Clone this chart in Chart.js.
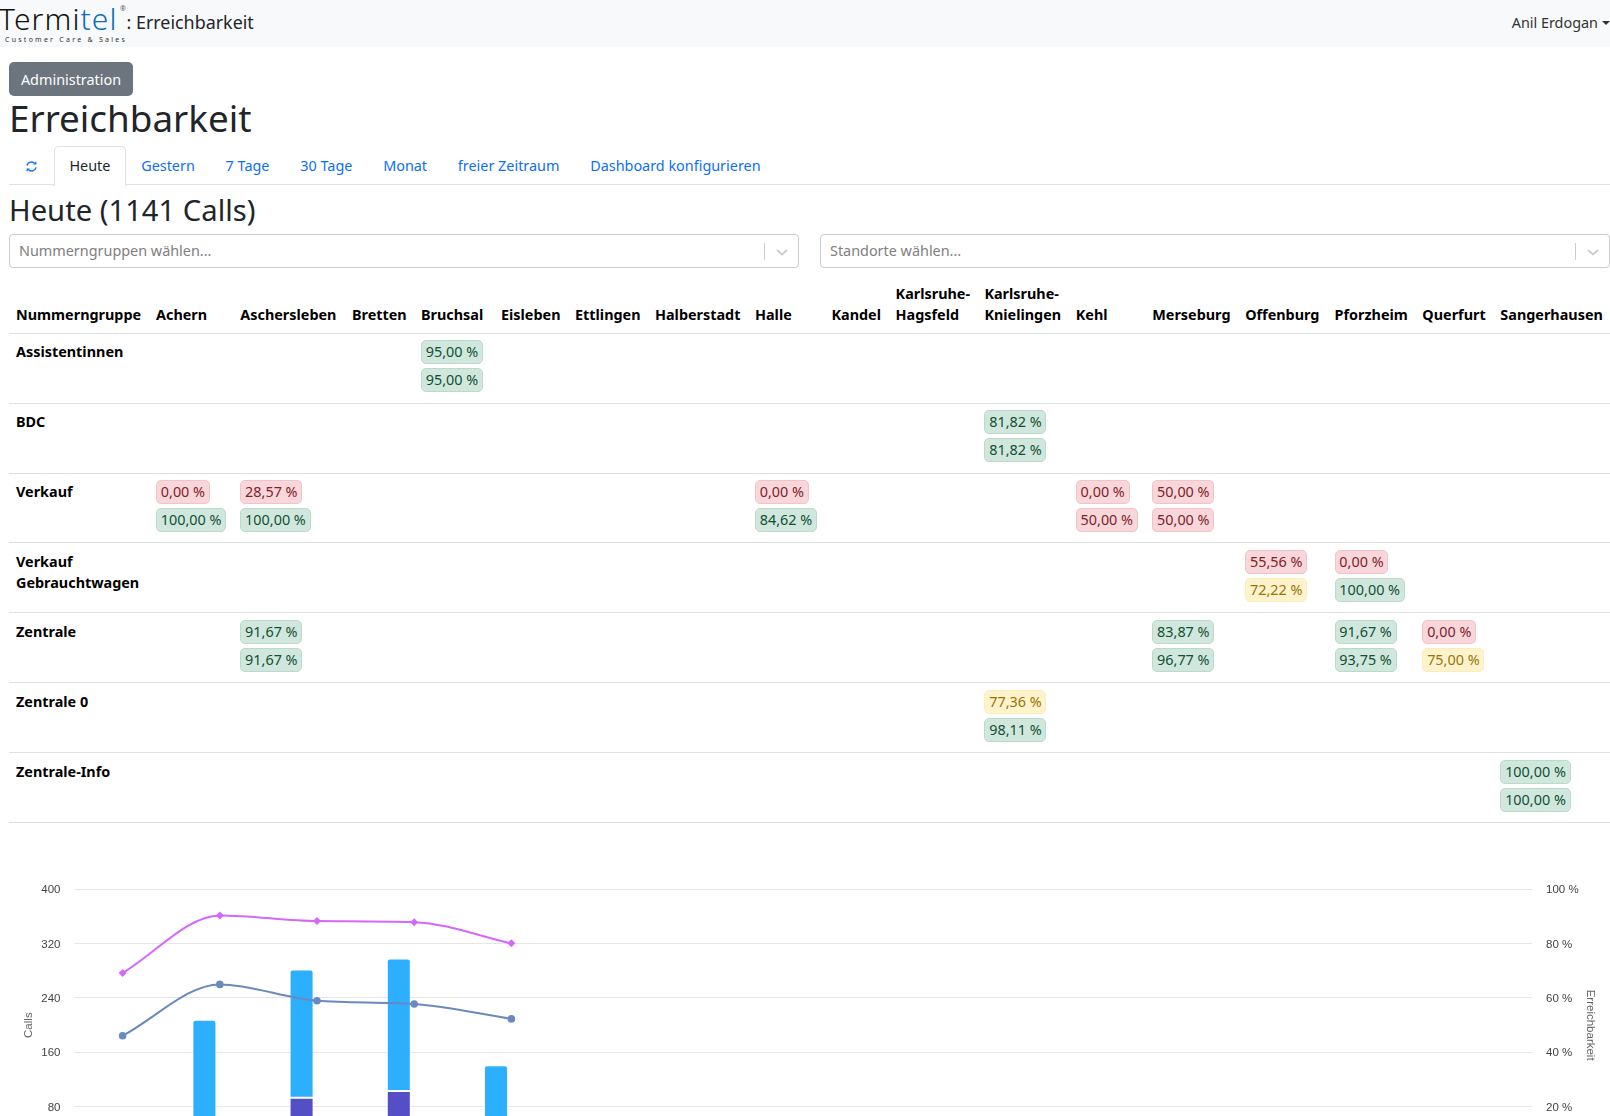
<!DOCTYPE html>
<html lang="de">
<head>
<meta charset="utf-8">
<title>Erreichbarkeit</title>
<script src="https://cdn.jsdelivr.net/npm/chart.js@4"></script>
<style>
html, body { margin: 0; height: 100%; overflow: hidden; background: #fff; }
body { font-family: "Noto Sans", sans-serif; font-size: 14.4px; color: #212529; position: relative; }
.abs { position: absolute; white-space: nowrap; }
#navbar { left: 0; top: 0; width: 1610px; height: 47px; background: #f8f9fa; }
#logo { left: -1px; top: 1px; font: 300 30px/36px "Noto Sans", sans-serif; letter-spacing: 1.1px; color: #111; }
#logo span { color: #0a6ebd; }
#logoReg { left: 120px; top: 4px; font-size: 7px; color: #555; }
#tagline { left: 5px; top: 35px; font-size: 7px; line-height: 9px; letter-spacing: 2.25px; color: #333; }
#navTitle { left: 126.5px; top: 9px; font-size: 17.9px; line-height: 27px; }
#user { right: 0; top: 11px; font-size: 14.4px; line-height: 24px; color: #333; }
#user i { display: inline-block; margin-left: 4px; vertical-align: 3px; border-top: 4.5px solid #333; border-left: 4.5px solid transparent; border-right: 4.5px solid transparent; }
#admin { left: 9px; top: 62px; width: 124px; height: 34px; background: #6c757d; color: #fff; border-radius: 5px; text-align: center; line-height: 36px; font-size: 14.4px; }
h1 { position: absolute; margin: 0; left: 9px; top: 91px; font-size: 36.8px; line-height: 54px; font-weight: 400; }
h2 { position: absolute; margin: 0; left: 9px; top: 188px; font-size: 29.2px; line-height: 44px; font-weight: 400; }
#tabs { left: 9px; top: 146px; width: 1601px; height: 38px; border-bottom: 1px solid #dee2e6; display: flex; }
#tabs a { padding: 0 15.4px; line-height: 40px; color: #0d6efd; height: 38px; font-size: 14.4px; }
#tabs a.active { color: #212529; background: #fff; border: 1px solid #dee2e6; border-bottom: 0; border-radius: 5px 5px 0 0; padding: 0 14.4px; height: 39px; line-height: 38px; }
.select { top: 234px; height: 32px; border: 1px solid #ccc; border-radius: 4px; color: #808080; line-height: 31px; box-sizing: content-box; }
.select span { position: absolute; left: 9px; }
.select b { position: absolute; right: 33px; top: 8px; width: 1px; height: 17px; background: #ccc; }
.select svg { position: absolute; right: 9px; top: 10px; }
#tabelle { position: absolute; left: 9px; top: 282.5px; width: 1601px; border-collapse: collapse; table-layout: fixed; font-size: 14.4px; color: #000; }
#tabelle th { text-align: left; vertical-align: bottom; padding: 0 7px 8px; line-height: 21px; font-weight: 700; border-bottom: 1px solid #dee2e6; }
#tabelle td { vertical-align: top; padding: 7px 7px 0; height: 62px; line-height: 21px; border-bottom: 1px solid #dee2e6; }
#tabelle tbody tr:nth-child(3) td { height: 61px; }
#tabelle tbody tr:nth-child(n+4) td { padding-top: 8px; height: 61px; }
#tabelle td.gruppe { font-weight: 700; }
.badge { display: block; width: fit-content; height: 22px; line-height: 22px; padding: 0 3.8px; margin-bottom: 4px; border: 1px solid; border-radius: 5px; white-space: nowrap; font-size: 14.4px; position: relative; top: -0.5px; }
.gut { background: #d1e7dd; border-color: #badbcc; color: #0f5132; }
.mittel { background: #fff3cd; border-color: #ffecb5; color: #997404; }
.schlecht { background: #f8d7da; border-color: #f5c2c7; color: #842029; }
#chartBox { position: absolute; left: 0; top: 850px; width: 1610px; height: 380px; }
</style>
</head>
<body>
<div class="abs" id="navbar"></div>
<div class="abs" id="logo">Termi<span>tel</span></div>
<div class="abs" id="logoReg">®</div>
<div class="abs" id="tagline">Customer Care &amp; Sales</div>
<div class="abs" id="navTitle">: Erreichbarkeit</div>
<div class="abs" id="user">Anil Erdogan<i></i></div>
<div class="abs" id="admin">Administration</div>
<h1>Erreichbarkeit</h1>
<div class="abs" id="tabs">
  <a style="padding:0 16px 0 16px"><svg width="13" height="13" viewBox="0 0 16 16" style="vertical-align:-2px"><path d="M2.5 7a5.5 5.5 0 0 1 9.6-2.6M13.5 9a5.5 5.5 0 0 1-9.6 2.6" fill="none" stroke="#0d6efd" stroke-width="1.7"/><path d="M14 1.5v4h-4zM2 14.5v-4h4z" fill="#0d6efd"/></svg></a>
  <a class="active">Heute</a><a>Gestern</a><a>7 Tage</a><a>30 Tage</a><a>Monat</a><a>freier Zeitraum</a><a>Dashboard konfigurieren</a>
</div>
<h2>Heute (1141 Calls)</h2>
<div class="abs select" style="left:9px;width:788px"><span>Nummerngruppen wählen...</span><b></b><svg width="14" height="14" viewBox="0 0 14 14"><path d="M2 5l5 4.5L12 5" fill="none" stroke="#ccc" stroke-width="1.8"/></svg></div>
<div class="abs select" style="left:820px;width:788px"><span>Standorte wählen...</span><b></b><svg width="14" height="14" viewBox="0 0 14 14"><path d="M2 5l5 4.5L12 5" fill="none" stroke="#ccc" stroke-width="1.8"/></svg></div>
<table id="tabelle"><colgroup id="spalten"></colgroup><thead><tr id="kopf"></tr></thead><tbody id="zeilen"></tbody></table>
<div id="chartBox"><canvas id="callsChart"></canvas></div>

<script>
// Tabelle
const standorte = ['Achern','Aschersleben','Bretten','Bruchsal','Eisleben','Ettlingen','Halberstadt','Halle','Kandel','Karlsruhe-Hagsfeld','Karlsruhe-Knielingen','Kehl','Merseburg','Offenburg','Pforzheim','Querfurt','Sangerhausen'];
const spaltenBreiten = [140,84.3,111.7,69,80,74,80,100,76.5,64.1,88.8,91.4,76.5,92.9,89.4,87.8,78,116.6];

const gruppen = ['Assistentinnen','BDC','Verkauf','Verkauf Gebrauchtwagen','Zentrale','Zentrale 0','Zentrale-Info'];
const assistentinnen = { Bruchsal: [95, 95] };
const bdc = { 'Karlsruhe-Knielingen': [81.82, 81.82] };
const verkauf = { Achern: [0, 100], Aschersleben: [28.57, 100], Halle: [0, 84.62], Kehl: [0, 50], Merseburg: [50, 50] };
const gebrauchtwagen = { Offenburg: [55.56, 72.22], Pforzheim: [0, 100] };
const zentrale = { Aschersleben: [91.67, 91.67], Merseburg: [83.87, 96.77], Pforzheim: [91.67, 93.75], Querfurt: [0, 75] };
const zentrale0 = { 'Karlsruhe-Knielingen': [77.36, 98.11] };
const zentraleInfo = { Sangerhausen: [100, 100] };
const gruppenWerte = [assistentinnen, bdc, verkauf, gebrauchtwagen, zentrale, zentrale0, zentraleInfo];

// Diagramm: the first stack is read off the picture, whatever lies below the
// visible fold (under about 66 calls) is an estimate, and so are the hour labels
const stunden = ['06','07','08','09','10','11','12','13','14','15','16','17','18','19','20'];
const callsOben = [25, 148, 189, 195, 111];
const callsUnten = [15, 60, 93, 103, 30];
const callsZweiterStapel = [12, 38, 47, 50, 30];
const erreichbarkeitBlau = [46.1, 65.0, 59.0, 57.8, 52.3];
const erreichbarkeitPink = [69.2, 90.4, 88.3, 87.9, 80.1];
const callsTicks = { min: 0, max: 400, step: 80 };
const prozentTicks = { min: 0, max: 100, step: 20 };

function badgeKlasse(wert) {
  if (wert < 70) return 'schlecht';
  if (wert < 80) return 'mittel';
  return 'gut';
}

function fmt(wert) {
  return wert.toFixed(2).replace('.', ',') + ' %';
}

function drawTable() {
  document.getElementById('spalten').innerHTML = spaltenBreiten.map(b => `<col style="width:${b}px">`).join('');
  document.getElementById('kopf').innerHTML = ['Nummerngruppe'].concat(standorte).map(s => `<th>${s}</th>`).join('');
  document.getElementById('zeilen').innerHTML = gruppen.map((g, i) => {
    const zellen = standorte.map(s => {
      const werte = gruppenWerte[i][s];
      if (!werte) return '<td></td>';
      return '<td>' + werte.map(w => `<span class="badge ${badgeKlasse(w)}">${fmt(w)}</span>`).join('') + '</td>';
    }).join('');
    return `<tr><td class="gruppe">${g}</td>${zellen}</tr>`;
  }).join('');
}

function drawChart() {
  const tickFont = { family: '"Liberation Sans", sans-serif', size: 11.5 };
  const barBase = {
    type: 'bar', yAxisID: 'y', order: 2, categoryPercentage: 0.634, barPercentage: 0.78,
    borderColor: '#ffffff', borderWidth: 1, borderSkipped: false
  };
  const lineBase = {
    type: 'line', yAxisID: 'y1', order: 0, borderWidth: 2, cubicInterpolationMode: 'monotone', fill: false
  };
  new Chart(document.getElementById('callsChart').getContext('2d'), {
    data: {
      labels: stunden,
      datasets: [
        { ...barBase, label: 'Unten', data: callsUnten, stack: 'a', backgroundColor: '#544fc5' },
        { ...barBase, label: 'Oben', data: callsOben, stack: 'a', backgroundColor: '#2caffe',
          borderRadius: { topLeft: 3, topRight: 3, bottomLeft: 0, bottomRight: 0 } },
        { ...barBase, label: 'Zweiter Stapel', data: callsZweiterStapel, stack: 'b', backgroundColor: '#00e272' },
        { ...lineBase, label: 'Erreichbarkeit', data: erreichbarkeitBlau, borderColor: '#6b8abc', backgroundColor: '#6b8abc', pointStyle: 'circle', pointRadius: 3.8, pointBorderWidth: 0 },
        { ...lineBase, label: 'Erreichbarkeit gesamt', data: erreichbarkeitPink, borderColor: '#d568fb', backgroundColor: '#d568fb', pointStyle: 'rectRot', pointRadius: 4, pointBorderWidth: 0 }
      ]
    },
    options: {
      responsive: true,
      maintainAspectRatio: false,
      animation: false,
      layout: { padding: { top: 39.3, left: 0, right: 0, bottom: 0 } },
      plugins: { legend: { display: false }, tooltip: { enabled: false } },
      scales: {
        x: {
          stacked: true,
          offset: true,
          grid: { display: false },
          border: { display: false },
          ticks: { color: '#444444', font: tickFont },
          afterFit: s => { s.height = 69; }
        },
        y: {
          position: 'left',
          stacked: true,
          min: callsTicks.min,
          max: callsTicks.max,
          afterFit: s => { s.width = 74; },
          grid: { color: '#e6e6e6', drawTicks: false },
          border: { display: false },
          ticks: { stepSize: callsTicks.step, color: '#444444', font: tickFont, padding: 13.5, labelOffset: 0.7 },
          title: { display: true, text: 'Calls', color: '#666666', font: tickFont, padding: { top: 22, bottom: 0 } }
        },
        y1: {
          position: 'right',
          min: prozentTicks.min,
          max: prozentTicks.max,
          afterFit: s => { s.width = 78; },
          grid: { display: false, drawTicks: false },
          border: { display: false },
          ticks: { stepSize: prozentTicks.step, color: '#444444', font: tickFont, padding: 14, labelOffset: 0.7, callback: v => v + ' %' },
          title: { display: true, text: 'Erreichbarkeit', color: '#666666', font: tickFont, padding: { top: 13, bottom: 0 } }
        }
      }
    }
  });
}

drawTable();
drawChart();
</script>
</body>
</html>
